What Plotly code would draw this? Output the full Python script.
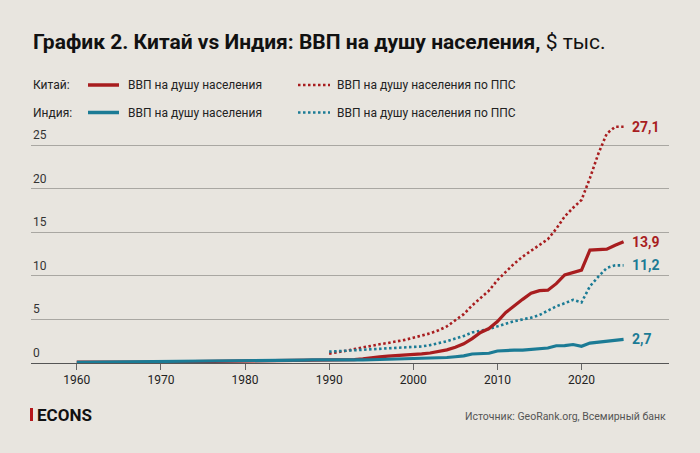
import plotly.graph_objects as go

# ---------------- data ----------------
years = list(range(1960, 2026))
years_pps = list(range(1990, 2026))

china_gdp = [0.09, 0.08, 0.07, 0.07, 0.08, 0.10, 0.10, 0.09, 0.09, 0.10,
             0.11, 0.12, 0.13, 0.16, 0.16, 0.18, 0.17, 0.19, 0.16, 0.18,
             0.19, 0.20, 0.20, 0.22, 0.25, 0.29, 0.28, 0.25, 0.28, 0.31,
             0.32, 0.33, 0.37, 0.38, 0.47, 0.61, 0.71, 0.78, 0.83, 0.87,
             0.96, 1.05, 1.15, 1.29, 1.51, 1.80, 2.20, 2.80, 3.50, 3.95,
             4.75, 5.80, 6.60, 7.30, 8.00, 8.30, 8.35, 9.10, 10.10, 10.40,
             10.65, 12.95, 13.00, 13.05, 13.50, 13.90]
india_gdp = [0.08, 0.09, 0.09, 0.10, 0.12, 0.12, 0.09, 0.10, 0.10, 0.11,
             0.11, 0.12, 0.12, 0.14, 0.16, 0.16, 0.16, 0.19, 0.21, 0.22,
             0.27, 0.27, 0.28, 0.29, 0.28, 0.30, 0.31, 0.34, 0.36, 0.35,
             0.37, 0.30, 0.32, 0.30, 0.35, 0.37, 0.40, 0.42, 0.42, 0.44,
             0.46, 0.47, 0.49, 0.56, 0.63, 0.72, 0.82, 1.03, 1.05, 1.12,
             1.38, 1.47, 1.47, 1.48, 1.58, 1.62, 1.72, 1.98, 2.00, 2.12,
             1.92, 2.28, 2.38, 2.48, 2.60, 2.70]
china_pps = [1.07, 1.20, 1.40, 1.60, 1.80, 2.00, 2.15, 2.30, 2.45, 2.65,
             2.90, 3.15, 3.40, 3.75, 4.20, 4.90, 5.60, 6.60, 7.40, 8.30,
             9.50, 10.50, 11.40, 12.20, 12.90, 13.60, 14.20, 15.40, 16.80, 17.80,
             18.70, 21.20, 24.00, 26.30, 27.10, 27.10]
india_pps = [1.30, 1.35, 1.40, 1.45, 1.50, 1.55, 1.60, 1.65, 1.70, 1.75,
             1.85, 1.90, 2.05, 2.25, 2.50, 2.80, 3.10, 3.50, 3.70, 3.90,
             4.20, 4.50, 4.80, 5.00, 5.20, 5.50, 6.00, 6.50, 6.85, 7.25,
             6.95, 8.80, 9.90, 10.90, 11.20, 11.20]

x_ticks = [1960, 1970, 1980, 1990, 2000, 2010, 2020]
y_ticks = [0, 5, 10, 15, 20, 25]

title_bold = "График 2. Китай vs Индия: ВВП на душу населения,"
title_unit = "$ тыс."
row_labels = ["Китай:", "Индия:"]
series_names = ["ВВП на душу населения", "ВВП на душу населения по ППС"]
source = "Источник: GeoRank.org, Всемирный банк"
brand = "ECONS"

# ---------------- style ----------------
RED = "#a81d1f"
TEAL = "#1b7b95"
BG = "#e8e5df"
GRID = "#a9a7a2"
FONT = "Roboto"

W, H = 700, 453
L, R, T, B = 31, 31, 120, 90
pw, ph = W - L - R, H - T - B


def px_x(p):
    return (p - L) / pw


def px_y(p):
    return (H - B - p) / ph


fig = go.Figure()

def line(x, y, color, dash):
    fig.add_trace(go.Scatter(
        x=x, y=y, mode="lines",
        line=dict(color=color, width=3.2 if dash is None else 2.6,
                  dash=dash if dash else "solid"),
        hoverinfo="skip", showlegend=False))

line(years_pps, china_pps, RED, "2.5px,2.5px")
line(years_pps, india_pps, TEAL, "2.5px,2.5px")
line(years, china_gdp, RED, None)
line(years, india_gdp, TEAL, None)

fig.update_layout(
    width=W, height=H, autosize=False,
    margin=dict(l=L, r=R, t=T, b=B, pad=0),
    paper_bgcolor=BG, plot_bgcolor=BG,
    font=dict(family=FONT, color="#222"),
    xaxis=dict(range=[1954.56, 2030.4], tickvals=x_ticks,
               ticks="outside", ticklen=6, tickcolor="#666", tickwidth=1,
               showline=True, linecolor="#555", linewidth=1,
               showgrid=False, zeroline=False,
               tickfont=dict(size=12, color="#222", family=FONT)),
    yaxis=dict(range=[0, 27.87], tickvals=y_ticks[1:], showticklabels=False,
               showgrid=True, gridcolor=GRID, gridwidth=1, zeroline=False,
               ticks=""),
)

ann = []
# y tick labels, above gridlines
for v in y_ticks:
    ann.append(dict(x=0, xref="paper", y=v, yref="y", text=str(v),
                    showarrow=False, xanchor="left", yanchor="bottom",
                    yshift=1, font=dict(size=12, color="#333", family=FONT)))

# end labels
ends = [(china_pps, RED, years_pps), (china_gdp, RED, years),
        (india_pps, TEAL, years_pps), (india_gdp, TEAL, years)]
for vals, col, xs in ends:
    ann.append(dict(x=xs[-1], y=vals[-1], xref="x", yref="y",
                    text=("%.1f" % vals[-1]).replace(".", ","),
                    showarrow=False, xanchor="left", yanchor="middle", xshift=6,
                    font=dict(size=14, color=col, family=FONT, weight="bold")))

# title
ann.append(dict(x=0, xref="paper", y=px_y(42), yref="paper",
                text="<b>%s</b> %s" % (title_bold, title_unit),
                showarrow=False, xanchor="left", yanchor="middle",
                font=dict(size=21, color="#111", family=FONT)))

# legend
shapes = []
rows_y = [85, 112.5]
for i, (lab, col) in enumerate(zip(row_labels, [RED, TEAL])):
    yy = px_y(rows_y[i])
    ann.append(dict(x=0, xref="paper", y=yy, yref="paper", text=lab,
                    showarrow=False, xanchor="left", yanchor="middle",
                    font=dict(size=12, color="#222", family=FONT)))
    shapes.append(dict(type="line", xref="paper", yref="paper",
                       x0=px_x(88), x1=px_x(119), y0=yy, y1=yy,
                       line=dict(color=col, width=3.5)))
    ann.append(dict(x=px_x(126), xref="paper", y=yy, yref="paper",
                    text=series_names[0], showarrow=False,
                    xanchor="left", yanchor="middle",
                    font=dict(size=12, color="#222", family=FONT)))
    shapes.append(dict(type="line", xref="paper", yref="paper",
                       x0=px_x(298), x1=px_x(330), y0=yy, y1=yy,
                       line=dict(color=col, width=2.5, dash="2.5px,2.5px")))
    ann.append(dict(x=px_x(335), xref="paper", y=yy, yref="paper",
                    text=series_names[1], showarrow=False,
                    xanchor="left", yanchor="middle",
                    font=dict(size=12, color="#222", family=FONT)))

# footer
shapes.append(dict(type="rect", xref="paper", yref="paper",
                   x0=px_x(30), x1=px_x(33), y0=px_y(421), y1=px_y(408),
                   fillcolor="#b5161b", line=dict(width=0)))
ann.append(dict(x=px_x(35), xref="paper", y=px_y(415), yref="paper",
                text="<b>%s</b>" % brand, showarrow=False,
                xanchor="left", yanchor="middle",
                font=dict(size=17, color="#111", family=FONT)))
ann.append(dict(x=px_x(668), xref="paper", y=px_y(416), yref="paper",
                text=source, showarrow=False,
                xanchor="right", yanchor="middle",
                font=dict(size=10.5, color="#555", family=FONT)))

fig.update_layout(annotations=ann, shapes=shapes)
fig.write_html("out.html")
